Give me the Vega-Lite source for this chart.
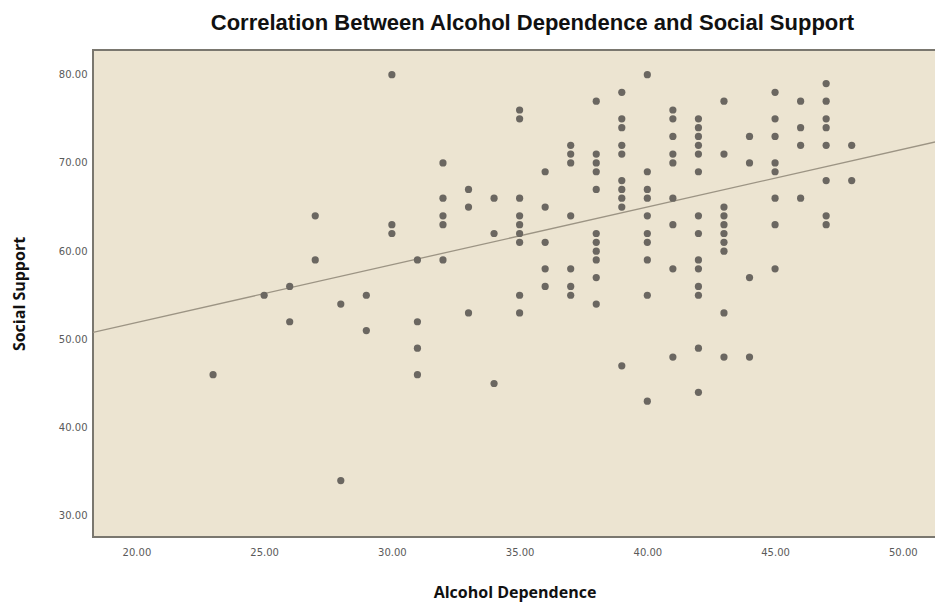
{
  "$schema": "https://vega.github.io/schema/vega-lite/v6.json",
  "width": 843,
  "height": 487,
  "autosize": {"type": "none"},
  "padding": {"left": 93, "top": 50, "right": 0, "bottom": 69},
  "background": "#ffffff",
  "title": {
    "text": "Correlation Between Alcohol Dependence and Social Support",
    "font": "Liberation Sans",
    "fontSize": 22,
    "fontWeight": "bold",
    "color": "#111111",
    "anchor": "middle",
    "dx": 18,
    "offset": 15
  },
  "config": {
    "view": {"fill": "#ECE4D1", "stroke": "#7a776f", "strokeWidth": 2},
    "axis": {
      "grid": false,
      "domain": false,
      "ticks": false,
      "labelFont": "DejaVu Sans",
      "labelFontSize": 10,
      "labelColor": "#5a5a5a",
      "titleFont": "Open Sans",
      "titleFontSize": 16,
      "titleFontWeight": "bold",
      "titleColor": "#111111"
    }
  },
  "datasets": {
    "points": [
      {"AlcoholDependence": 23, "SocialSupport": 46},
      {"AlcoholDependence": 25, "SocialSupport": 55},
      {"AlcoholDependence": 26, "SocialSupport": 56},
      {"AlcoholDependence": 26, "SocialSupport": 52},
      {"AlcoholDependence": 27, "SocialSupport": 64},
      {"AlcoholDependence": 27, "SocialSupport": 59},
      {"AlcoholDependence": 28, "SocialSupport": 54},
      {"AlcoholDependence": 28, "SocialSupport": 34},
      {"AlcoholDependence": 29, "SocialSupport": 55},
      {"AlcoholDependence": 29, "SocialSupport": 51},
      {"AlcoholDependence": 30, "SocialSupport": 80},
      {"AlcoholDependence": 30, "SocialSupport": 63},
      {"AlcoholDependence": 30, "SocialSupport": 62},
      {"AlcoholDependence": 31, "SocialSupport": 59},
      {"AlcoholDependence": 31, "SocialSupport": 52},
      {"AlcoholDependence": 31, "SocialSupport": 49},
      {"AlcoholDependence": 31, "SocialSupport": 46},
      {"AlcoholDependence": 32, "SocialSupport": 70},
      {"AlcoholDependence": 32, "SocialSupport": 66},
      {"AlcoholDependence": 32, "SocialSupport": 64},
      {"AlcoholDependence": 32, "SocialSupport": 63},
      {"AlcoholDependence": 32, "SocialSupport": 59},
      {"AlcoholDependence": 33, "SocialSupport": 67},
      {"AlcoholDependence": 33, "SocialSupport": 65},
      {"AlcoholDependence": 33, "SocialSupport": 53},
      {"AlcoholDependence": 34, "SocialSupport": 66},
      {"AlcoholDependence": 34, "SocialSupport": 62},
      {"AlcoholDependence": 34, "SocialSupport": 45},
      {"AlcoholDependence": 35, "SocialSupport": 76},
      {"AlcoholDependence": 35, "SocialSupport": 75},
      {"AlcoholDependence": 35, "SocialSupport": 66},
      {"AlcoholDependence": 35, "SocialSupport": 64},
      {"AlcoholDependence": 35, "SocialSupport": 63},
      {"AlcoholDependence": 35, "SocialSupport": 62},
      {"AlcoholDependence": 35, "SocialSupport": 61},
      {"AlcoholDependence": 35, "SocialSupport": 55},
      {"AlcoholDependence": 35, "SocialSupport": 53},
      {"AlcoholDependence": 36, "SocialSupport": 69},
      {"AlcoholDependence": 36, "SocialSupport": 65},
      {"AlcoholDependence": 36, "SocialSupport": 61},
      {"AlcoholDependence": 36, "SocialSupport": 58},
      {"AlcoholDependence": 36, "SocialSupport": 56},
      {"AlcoholDependence": 37, "SocialSupport": 72},
      {"AlcoholDependence": 37, "SocialSupport": 71},
      {"AlcoholDependence": 37, "SocialSupport": 70},
      {"AlcoholDependence": 37, "SocialSupport": 64},
      {"AlcoholDependence": 37, "SocialSupport": 58},
      {"AlcoholDependence": 37, "SocialSupport": 56},
      {"AlcoholDependence": 37, "SocialSupport": 55},
      {"AlcoholDependence": 38, "SocialSupport": 77},
      {"AlcoholDependence": 38, "SocialSupport": 71},
      {"AlcoholDependence": 38, "SocialSupport": 70},
      {"AlcoholDependence": 38, "SocialSupport": 69},
      {"AlcoholDependence": 38, "SocialSupport": 67},
      {"AlcoholDependence": 38, "SocialSupport": 62},
      {"AlcoholDependence": 38, "SocialSupport": 61},
      {"AlcoholDependence": 38, "SocialSupport": 60},
      {"AlcoholDependence": 38, "SocialSupport": 59},
      {"AlcoholDependence": 38, "SocialSupport": 57},
      {"AlcoholDependence": 38, "SocialSupport": 54},
      {"AlcoholDependence": 39, "SocialSupport": 78},
      {"AlcoholDependence": 39, "SocialSupport": 75},
      {"AlcoholDependence": 39, "SocialSupport": 74},
      {"AlcoholDependence": 39, "SocialSupport": 72},
      {"AlcoholDependence": 39, "SocialSupport": 71},
      {"AlcoholDependence": 39, "SocialSupport": 68},
      {"AlcoholDependence": 39, "SocialSupport": 67},
      {"AlcoholDependence": 39, "SocialSupport": 66},
      {"AlcoholDependence": 39, "SocialSupport": 65},
      {"AlcoholDependence": 39, "SocialSupport": 47},
      {"AlcoholDependence": 40, "SocialSupport": 80},
      {"AlcoholDependence": 40, "SocialSupport": 69},
      {"AlcoholDependence": 40, "SocialSupport": 67},
      {"AlcoholDependence": 40, "SocialSupport": 66},
      {"AlcoholDependence": 40, "SocialSupport": 64},
      {"AlcoholDependence": 40, "SocialSupport": 62},
      {"AlcoholDependence": 40, "SocialSupport": 61},
      {"AlcoholDependence": 40, "SocialSupport": 59},
      {"AlcoholDependence": 40, "SocialSupport": 55},
      {"AlcoholDependence": 40, "SocialSupport": 43},
      {"AlcoholDependence": 41, "SocialSupport": 76},
      {"AlcoholDependence": 41, "SocialSupport": 75},
      {"AlcoholDependence": 41, "SocialSupport": 73},
      {"AlcoholDependence": 41, "SocialSupport": 71},
      {"AlcoholDependence": 41, "SocialSupport": 70},
      {"AlcoholDependence": 41, "SocialSupport": 66},
      {"AlcoholDependence": 41, "SocialSupport": 63},
      {"AlcoholDependence": 41, "SocialSupport": 58},
      {"AlcoholDependence": 41, "SocialSupport": 48},
      {"AlcoholDependence": 42, "SocialSupport": 75},
      {"AlcoholDependence": 42, "SocialSupport": 74},
      {"AlcoholDependence": 42, "SocialSupport": 73},
      {"AlcoholDependence": 42, "SocialSupport": 72},
      {"AlcoholDependence": 42, "SocialSupport": 71},
      {"AlcoholDependence": 42, "SocialSupport": 69},
      {"AlcoholDependence": 42, "SocialSupport": 64},
      {"AlcoholDependence": 42, "SocialSupport": 62},
      {"AlcoholDependence": 42, "SocialSupport": 59},
      {"AlcoholDependence": 42, "SocialSupport": 58},
      {"AlcoholDependence": 42, "SocialSupport": 56},
      {"AlcoholDependence": 42, "SocialSupport": 55},
      {"AlcoholDependence": 42, "SocialSupport": 49},
      {"AlcoholDependence": 42, "SocialSupport": 44},
      {"AlcoholDependence": 43, "SocialSupport": 77},
      {"AlcoholDependence": 43, "SocialSupport": 71},
      {"AlcoholDependence": 43, "SocialSupport": 65},
      {"AlcoholDependence": 43, "SocialSupport": 64},
      {"AlcoholDependence": 43, "SocialSupport": 63},
      {"AlcoholDependence": 43, "SocialSupport": 62},
      {"AlcoholDependence": 43, "SocialSupport": 61},
      {"AlcoholDependence": 43, "SocialSupport": 60},
      {"AlcoholDependence": 43, "SocialSupport": 53},
      {"AlcoholDependence": 43, "SocialSupport": 48},
      {"AlcoholDependence": 44, "SocialSupport": 73},
      {"AlcoholDependence": 44, "SocialSupport": 70},
      {"AlcoholDependence": 44, "SocialSupport": 57},
      {"AlcoholDependence": 44, "SocialSupport": 48},
      {"AlcoholDependence": 45, "SocialSupport": 78},
      {"AlcoholDependence": 45, "SocialSupport": 75},
      {"AlcoholDependence": 45, "SocialSupport": 73},
      {"AlcoholDependence": 45, "SocialSupport": 70},
      {"AlcoholDependence": 45, "SocialSupport": 69},
      {"AlcoholDependence": 45, "SocialSupport": 66},
      {"AlcoholDependence": 45, "SocialSupport": 63},
      {"AlcoholDependence": 45, "SocialSupport": 58},
      {"AlcoholDependence": 46, "SocialSupport": 77},
      {"AlcoholDependence": 46, "SocialSupport": 74},
      {"AlcoholDependence": 46, "SocialSupport": 72},
      {"AlcoholDependence": 46, "SocialSupport": 66},
      {"AlcoholDependence": 47, "SocialSupport": 79},
      {"AlcoholDependence": 47, "SocialSupport": 77},
      {"AlcoholDependence": 47, "SocialSupport": 75},
      {"AlcoholDependence": 47, "SocialSupport": 74},
      {"AlcoholDependence": 47, "SocialSupport": 72},
      {"AlcoholDependence": 47, "SocialSupport": 68},
      {"AlcoholDependence": 47, "SocialSupport": 64},
      {"AlcoholDependence": 47, "SocialSupport": 63},
      {"AlcoholDependence": 48, "SocialSupport": 72},
      {"AlcoholDependence": 48, "SocialSupport": 68}
    ],
    "fit": [
      {"AlcoholDependence": 18.3, "SocialSupport": 50.8},
      {"AlcoholDependence": 51.3, "SocialSupport": 72.4}
    ]
  },
  "layer": [
    {
      "data": {"name": "fit"},
      "mark": {"type": "line", "color": "#9c9484", "strokeWidth": 1.3, "clip": true},
      "encoding": {
        "x": {"field": "AlcoholDependence", "type": "quantitative"},
        "y": {"field": "SocialSupport", "type": "quantitative"}
      }
    },
    {
      "data": {"name": "points"},
      "mark": {"type": "circle", "size": 52, "color": "#6b6761", "opacity": 1},
      "encoding": {
        "x": {
          "field": "AlcoholDependence",
          "type": "quantitative",
          "title": "Alcohol Dependence",
          "scale": {"domain": [18.3, 51.3], "nice": false, "zero": false},
          "axis": {"values": [20, 25, 30, 35, 40, 45, 50], "format": ".2f", "labelPadding": 10, "titlePadding": 27}
        },
        "y": {
          "field": "SocialSupport",
          "type": "quantitative",
          "title": "Social Support",
          "scale": {"domain": [27.6, 82.8], "nice": false, "zero": false},
          "axis": {"values": [30, 40, 50, 60, 70, 80], "format": ".2f", "labelPadding": 6, "titlePadding": 31}
        }
      }
    }
  ]
}
